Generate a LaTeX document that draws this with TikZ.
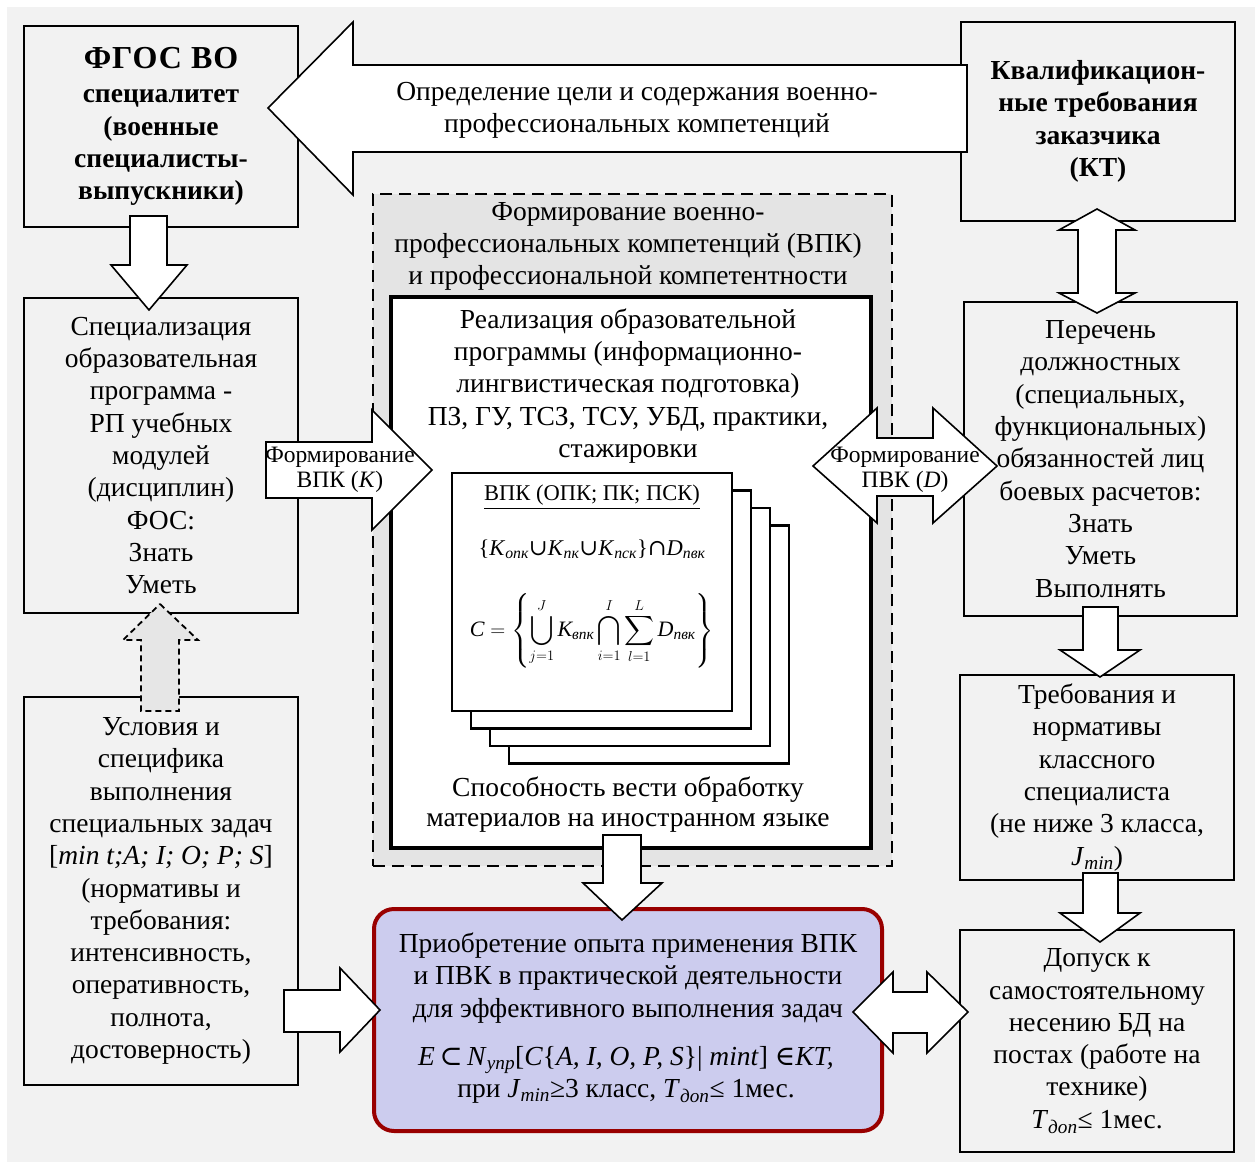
\documentclass[tikz,border=0pt]{standalone}
\usepackage{amsmath}
\usepackage{fontspec}
\setmainfont{Liberation Serif}
\newfontfamily\symf{DejaVu Serif}
\definecolor{bg}{HTML}{F2F2F2}
\definecolor{dashbg}{HTML}{E4E4E4}
\definecolor{lav}{HTML}{CCCCEE}
\definecolor{dred}{HTML}{990000}
\definecolor{arrgray}{HTML}{E6E6E6}
\newcommand\mainsz{\fontsize{27.5}{32.3}\selectfont}
\newcommand\lblsz{\fontsize{23.5}{24.5}\selectfont}
\newcommand\fsz{\fontsize{22.5}{26}\selectfont}
\newcommand\isub[1]{\textsubscript{\itshape #1}}
\begin{document}
\begin{tikzpicture}[x=1pt,y=-1pt,
  box/.style={draw, line width=2.6pt, fill=bg, inner sep=0pt, align=center, font=\mainsz},
  barrow/.style={draw, fill=white, line width=1.6pt, line join=miter},
  txt/.style={inner sep=0pt, align=center, font=\mainsz},
  lbl/.style={inner sep=0pt, align=center, font=\lblsz},
  pagebox/.style={draw, line width=2.6pt, fill=white, minimum width=280pt, minimum height=238pt, inner sep=0pt}]
\useasboundingbox (0,0) rectangle (1258,1166);
\fill[white] (0,0) rectangle (1258,1166);
\fill[bg] (7,7) rectangle (1255,1162);

% left column
\node[box, minimum width=274pt, minimum height=201pt] (fgos) at (161,126.5)
  {{\fontsize{32}{34}\selectfont\bfseries\addfontfeature{LetterSpace=3}ФГОС ВО}\\[2pt]\bfseries специалитет\\\bfseries (военные\\\bfseries специалисты-\\\bfseries выпускники)};
\node[box, minimum width=274pt, minimum height=315pt] (spec) at (161,455.5)
  {Специализация\\образовательная\\программа -\\РП учебных\\модулей\\(дисциплин)\\ФОС:\\Знать\\Уметь};
\node[box, minimum width=274pt, minimum height=388pt] (usl) at (161,891)
  {Условия и\\специфика\\выполнения\\специальных задач\\\relax[\textit{min t;A; I; O; P; S}]\\(нормативы и\\требования:\\интенсивность,\\оперативность,\\полнота,\\достоверность)};

% right column
\node[box, minimum width=274pt, minimum height=199pt] (kt) at (1098,121.5)
  {\bfseries Квалификацион-\\\bfseries ные требования\\\bfseries заказчика\\\bfseries (КТ)};
\node[box, minimum width=273pt, minimum height=314pt] (per) at (1100.5,459)
  {Перечень\\должностных\\(специальных,\\функциональных)\\обязанностей лиц\\боевых расчетов:\\Знать\\Уметь\\Выполнять};
\node[box, minimum width=274pt, minimum height=205pt] (treb) at (1097,777.5)
  {Требования и\\нормативы\\классного\\специалиста\\(не ниже 3 класса,\\\textit{J}\isub{min})};
\node[box, minimum width=274pt, minimum height=222pt] (dop) at (1097,1041)
  {Допуск к\\самостоятельному\\несению БД на\\постах (работе на\\технике)\\\textit{T}\isub{доп}≤ 1мес.};

% centre
\node[draw, fill=dashbg, line width=2pt, dash pattern=on 12pt off 7pt, minimum width=519pt, minimum height=672pt, inner sep=0pt] (form) at (632.5,530) {};
\node[txt] (formt) at (628,246.5) {Формирование военно-\\профессиональных компетенций (ВПК)\\и профессиональной компетентности};
\node[draw, fill=white, line width=4.5pt, minimum width=480pt, minimum height=551pt, inner sep=0pt] (inner) at (631,572.5) {};
\node[txt] (innert) at (628,386) {Реализация образовательной\\программы (информационно-\\лингвистическая подготовка)\\ПЗ, ГУ, ТСЗ, ТСУ, УБД, практики,\\стажировки};
\node[pagebox] (pg4) at (649,644.5) {};
\node[pagebox] (pg3) at (630,627) {};
\node[pagebox] (pg2) at (611,609.5) {};
\node[pagebox] (pg1) at (592,592) {};
\node[inner sep=0pt, font=\fontsize{22.5}{24}\selectfont] (pgt) at (592,497) {\underline{ВПК (ОПК; ПК; ПСК)}};
\node[inner sep=0pt, font=\fsz] (f1) at (592,549)
  {\{\textit{K}\isub{опк}{\symf ∪}\textit{K}\isub{пк}{\symf ∪}\textit{K}\isub{пск}\}{\symf ∩}\textit{D}\isub{пвк}};
\node[inner sep=0pt, font=\fontsize{22}{26}\selectfont] (f2) at (592,631)
  {$\displaystyle \textit{C}=\left\{\bigcup_{j=1}^{J}\textit{K}_{\text{\itshape впк}}\bigcap_{i=1}^{I}\sum_{l=1}^{L}\textit{D}_{\text{\itshape пвк}}\right\}$};
\node[txt, font=\fontsize{27.5}{30}\selectfont] (spos) at (628,805) {Способность вести обработку\\материалов на иностранном языке};

% result box
\node[draw=dred, fill=lav, line width=4pt, rounded corners=20pt, minimum width=508pt, minimum height=222pt, inner sep=0pt] (res) at (628,1020) {};
\node[txt] (rest) at (628,978) {Приобретение опыта применения ВПК\\и ПВК в практической деятельности\\для эффективного выполнения задач};
\node[txt] (resf) at (626,1075)
  {\textit{E}\,{\symf ⊂}\,\textit{N}\isub{упр}[\textit{C}\{\textit{A, I, O, P, S}\}| \textit{mint}] {\symf ∈}\textit{KT,}\\при \textit{J}\isub{min}≥3 класс, \textit{T}\isub{доп}≤ 1мес.};

% block arrows
\draw[barrow] (268,108) -- (353,22) -- (353,65) -- (967,65) -- (967,152) -- (353,152) -- (353,195) -- cycle;
\node[txt] (topt) at (637,110) {Определение цели и содержания военно-\\профессиональных компетенций};
\draw[barrow] (130,216) -- (167,216) -- (167,265) -- (187,265) -- (149,310) -- (111,265) -- (130,265) -- cycle;
\draw[barrow] (1097,209) -- (1135,230) -- (1116,230) -- (1116,293) -- (1135,293) -- (1097,313) -- (1059,293) -- (1078,293) -- (1078,230) -- (1059,230) -- cycle;
\draw[barrow] (1083,607) -- (1118,607) -- (1118,650) -- (1140,650) -- (1100,677) -- (1060,650) -- (1083,650) -- cycle;
\draw[barrow] (1083,873) -- (1118,873) -- (1118,913) -- (1140,913) -- (1100,942) -- (1060,913) -- (1083,913) -- cycle;
\draw[barrow, fill=arrgray, line width=1.8pt, dash pattern=on 6pt off 4pt] (160,604) -- (198,640) -- (179,640) -- (179,711) -- (141,711) -- (141,640) -- (123,640) -- cycle;
\draw[barrow] (284,990) -- (340,990) -- (340,968) -- (380,1010) -- (340,1052) -- (340,1032) -- (284,1032) -- cycle;
\draw[barrow] (853,1012) -- (893,972) -- (893,992) -- (927,992) -- (927,972) -- (968,1012) -- (927,1053) -- (927,1033) -- (893,1033) -- (893,1053) -- cycle;
\draw[barrow] (603,835) -- (641,835) -- (641,883) -- (662,883) -- (622,920) -- (583,883) -- (603,883) -- cycle;
\draw[barrow] (266,442) -- (372,442) -- (372,410) -- (432,470) -- (372,530) -- (372,498) -- (266,498) -- cycle;
\node[lbl] (kl) at (340,470) {Формирование\\ВПК (\textit{K})};
\draw[barrow] (813,466) -- (877,408) -- (877,438) -- (933,438) -- (933,408) -- (997,466) -- (933,523) -- (933,496) -- (877,496) -- (877,523) -- cycle;
\node[lbl] (dl) at (905,470) {Формирование\\ПВК (\textit{D})};
\end{tikzpicture}
\end{document}
